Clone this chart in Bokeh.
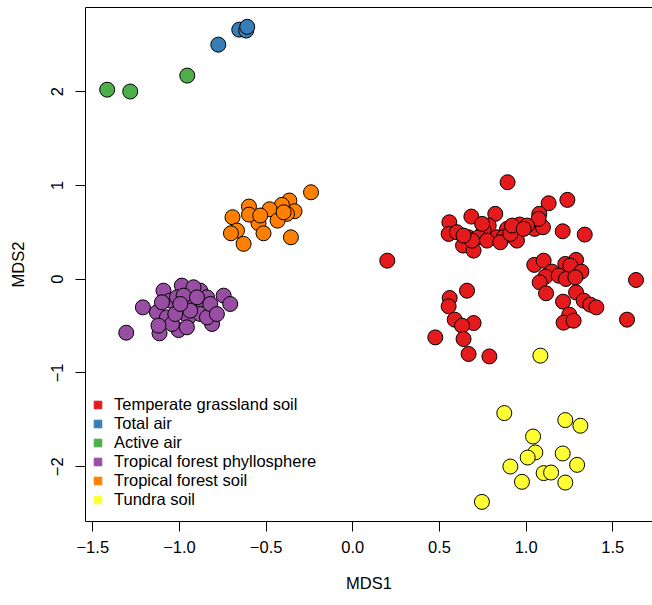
from bokeh.plotting import figure
from bokeh.models import (Range1d, FixedTicker, LinearAxis, Legend, LegendItem)
from bokeh.embed import file_html
from bokeh.resources import INLINE

# ---- data ----
groups = ["Temperate grassland soil", "Total air", "Active air",
          "Tropical forest phyllosphere", "Tropical forest soil", "Tundra soil"]
colors = ["#E41A1C", "#377EB8", "#4DAF4A", "#984EA3", "#FF7F00", "#FFFF33"]

grass_x = [0.893, 1.130, 1.238, 1.076, 1.211, 1.338, 0.557, 0.553, 0.684, 0.822,
           0.636, 0.697, 0.668, 0.601, 0.784, 0.755, 0.832, 0.890, 0.963, 0.947,
           1.049, 1.097, 1.072, 0.870, 0.726, 0.774, 0.851, 0.909, 1.005, 0.688,
           0.639, 0.746, 0.919, 0.986,
           1.047, 1.101, 1.149, 1.111, 1.078, 1.115, 1.226, 1.288, 1.255, 1.319,
           1.188, 1.230, 1.284, 1.213, 1.288, 1.332, 1.370, 1.405, 1.249, 1.216,
           1.274, 1.634, 1.582,
           0.659, 0.559, 0.553, 0.588, 0.697, 0.630, 0.639, 0.476, 0.668, 0.788,
           0.199]
grass_y = [1.033, 0.809, 0.845, 0.696, 0.510, 0.475, 0.606, 0.482, 0.667, 0.696,
           0.358, 0.304, 0.446, 0.500, 0.571, 0.518, 0.446, 0.536, 0.582, 0.411,
           0.536, 0.553, 0.642, 0.446, 0.446, 0.411, 0.393, 0.482, 0.571, 0.411,
           0.464, 0.589, 0.571, 0.536,
           0.152, 0.197, 0.080, 0.027, -0.034, -0.151, 0.162, 0.205, 0.144, 0.080,
           0.037, 0.002, 0.019, -0.240, -0.141, -0.229, -0.272, -0.301, -0.379, -0.464,
           -0.443, -0.009, -0.432,
           -0.123, -0.201, -0.290, -0.432, -0.468, -0.496, -0.638, -0.621, -0.798, -0.824,
           0.197]

total_air_x = [-0.776, -0.655, -0.615, -0.609]
total_air_y = [2.50, 2.66, 2.65, 2.69]

active_air_x = [-1.417, -1.284, -0.955]
active_air_y = [2.02, 2.00, 2.17]

phyllo_x = [-1.307, -1.211, -0.745, -0.707, -1.115, -1.005, -0.812, -0.986, -1.092,
            -1.130, -0.880, -0.841, -0.995, -0.986, -0.919, -0.861, -1.053, -0.948,
            -1.072, -1.014, -0.919, -0.880, -1.043, -0.957, -0.841, -1.101, -0.976,
            -0.899, -1.024, -0.822, -0.938, -0.995, -1.121, -0.784]
phyllo_y = [-0.571, -0.301, -0.176, -0.265, -0.578, -0.543, -0.478, -0.069, -0.123,
            -0.354, -0.123, -0.194, -0.308, -0.294, -0.265, -0.308, -0.229, -0.408,
            -0.408, -0.194, -0.087, -0.372, -0.478, -0.514, -0.408, -0.247, -0.176,
            -0.194, -0.372, -0.265, -0.336, -0.265, -0.496, -0.372]

trop_soil_x = [-0.241, -0.366, -0.409, -0.336, -0.380, -0.480, -0.434, -0.544, -0.515,
               -0.599, -0.599, -0.694, -0.668, -0.703, -0.630, -0.357, -0.534, -0.399]
trop_soil_y = [0.926, 0.838, 0.792, 0.724, 0.696, 0.745, 0.624, 0.596, 0.489,
               0.774, 0.688, 0.660, 0.518, 0.489, 0.376, 0.446, 0.678, 0.713]

tundra_x = [0.874, 1.226, 1.313, 1.040, 1.053, 1.009, 1.211, 0.909, 1.294, 1.101,
            1.144, 0.976, 1.226, 0.745, 1.082]
tundra_y = [-1.428, -1.503, -1.563, -1.678, -1.848, -1.902, -1.859, -1.998, -1.980,
            -2.068, -2.062, -2.161, -2.169, -2.375, -0.816]

x_ticks = [-1.5, -1.0, -0.5, 0.0, 0.5, 1.0, 1.5]
x_tick_labels = ["\u22121.5", "\u22121.0", "\u22120.5", "0.0", "0.5", "1.0", "1.5"]
y_ticks = [-2, -1, 0, 1, 2]
y_tick_labels = ["\u22122", "\u22121", "0", "1", "2"]

# ---- figure ----
FONT = "Liberation Sans"
FS = "16.5px"
p = figure(width=652, height=605, output_backend="svg", toolbar_location=None,
           x_range=Range1d(-1.542, 1.729), y_range=Range1d(-2.584, 2.896),
           min_border_left=85, min_border_right=0, min_border_top=7,
           min_border_bottom=84, x_axis_label="MDS1", y_axis_label="MDS2")
p.outline_line_color = None
p.grid.visible = False
p.background_fill_color = "white"
p.border_fill_color = "white"

for ax, ticks, labels in ((p.xaxis[0], x_ticks, x_tick_labels),
                          (p.yaxis[0], y_ticks, y_tick_labels)):
    ax.ticker = FixedTicker(ticks=ticks)
    ax.major_label_overrides = {t: l for t, l in zip(ticks, labels)}
    ax.minor_tick_line_color = None
    ax.major_tick_out = 10
    ax.major_tick_in = 0
    ax.axis_line_color = "black"
    ax.major_tick_line_color = "black"
    ax.major_label_text_font = FONT
    ax.major_label_text_font_size = FS
    ax.major_label_text_color = "black"
    ax.axis_label_text_font = FONT
    ax.axis_label_text_font_size = FS
    ax.axis_label_text_font_style = "normal"
    ax.axis_label_text_color = "black"

p.xaxis.major_label_standoff = 9
p.xaxis.axis_label_standoff = 18
p.yaxis.major_label_orientation = "vertical"
p.yaxis.major_label_standoff = 12
p.yaxis.axis_label_standoff = 22

top = LinearAxis(ticker=FixedTicker(ticks=[]), major_tick_out=0, major_tick_in=0,
                 minor_tick_out=0, minor_tick_in=0, major_label_standoff=0,
                 axis_label_standoff=0, major_label_text_font_size="0px",
                 axis_line_color="black")
p.add_layout(top, "above")

series = [
    (tundra_x, tundra_y, colors[5]),
    (grass_x, grass_y, colors[0]),
    (total_air_x, total_air_y, colors[1]),
    (active_air_x, active_air_y, colors[2]),
    (phyllo_x, phyllo_y, colors[3]),
    (trop_soil_x, trop_soil_y, colors[4]),
]
for xs, ys, c in series:
    p.scatter(x=xs, y=ys, size=15, marker="circle", fill_color=c,
              line_color="black", line_width=1)

nan = float("nan")
items = []
for name, c in zip(groups, colors):
    r = p.scatter(x=[nan], y=[nan], marker="square", fill_color=c, line_color=c)
    items.append(LegendItem(label=name, renderers=[r], index=0))

legend = Legend(items=items, location=(3, 12), padding=0, margin=0, spacing=0,
                glyph_width=19, glyph_height=19, label_height=19,
                label_standoff=7, border_line_color=None,
                background_fill_alpha=0, label_text_font=FONT,
                label_text_font_size=FS, label_text_color="black")
p.add_layout(legend, "center")

open("out.html", "w").write(file_html(p, INLINE))
